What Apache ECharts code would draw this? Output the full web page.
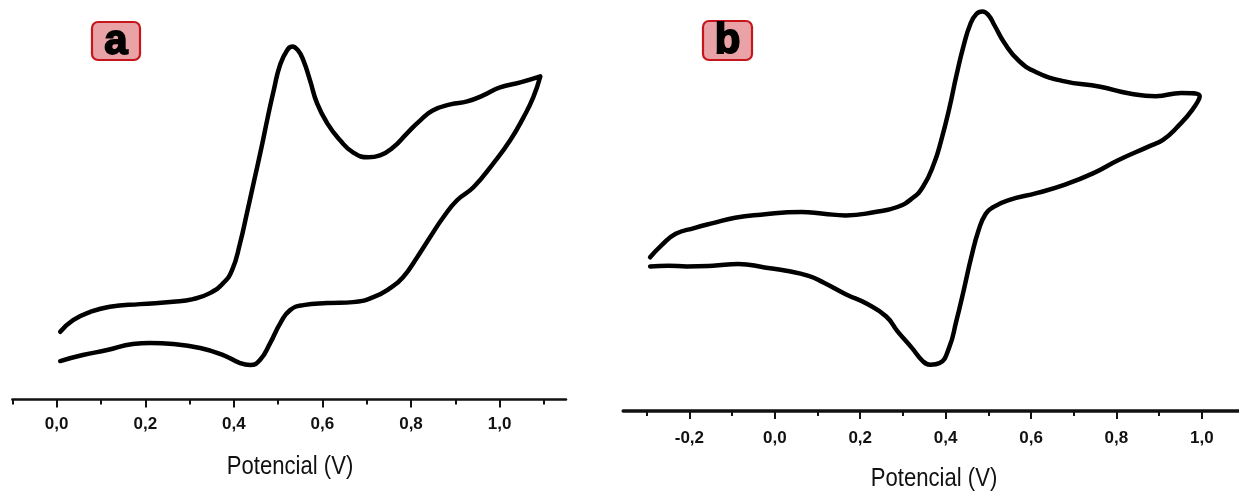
<!DOCTYPE html>
<html>
<head>
<meta charset="utf-8">
<script src="https://cdn.jsdelivr.net/npm/echarts@6/dist/echarts.min.js"></script>
<style>
  html, body { margin: 0; padding: 0; background: #ffffff; }
  #chart { width: 1239px; height: 495px; }
</style>
</head>
<body>
<div id="chart"></div>
<script>
// Voltammogram (a): potential (V) and current (arb. units), listed in scan order
const potentialA = [
  0.008, 0.037, 0.075, 0.120, 0.188, 0.263, 0.308, 0.346, 0.376, 0.396,
  0.414, 0.430, 0.446, 0.462, 0.477, 0.491, 0.504, 0.520, 0.532, 0.545,
  0.557, 0.572, 0.588, 0.611, 0.640, 0.669, 0.703, 0.730, 0.760, 0.791,
  0.821, 0.850, 0.889, 0.927, 0.963, 1.001, 1.047, 1.092,
  1.076, 1.054, 1.024, 0.986, 0.941, 0.904, 0.873, 0.843, 0.814, 0.782,
  0.753, 0.715, 0.669, 0.611, 0.557, 0.527, 0.505, 0.482, 0.459, 0.437,
  0.414, 0.376, 0.324, 0.263, 0.211, 0.172, 0.114, 0.059, 0.008
];
const currentA = [
  6.78, 7.95, 8.75, 9.28, 9.55, 9.78, 10.05, 10.65, 11.65, 12.95,
  15.65, 18.75, 21.95, 25.15, 28.35, 31.15, 33.45, 34.95, 35.35, 34.95,
  33.95, 31.95, 29.65, 27.65, 25.95, 24.75, 24.25, 24.45, 25.25, 26.65,
  27.95, 28.95, 29.55, 29.85, 30.45, 31.25, 31.75, 32.35,
  30.25, 28.25, 25.95, 23.65, 21.25, 19.95, 18.25, 16.25, 14.25, 12.25,
  11.15, 10.25, 9.75, 9.65, 9.45, 8.95, 7.65, 5.65, 3.95, 3.45,
  3.65, 4.45, 5.15, 5.55, 5.65, 5.55, 4.95, 4.45, 3.85
];

// Voltammogram (b)
const potentialB = [
  -0.292, -0.266, -0.232, -0.189, -0.145, -0.093, -0.033, 0.062, 0.114, 0.166,
  0.235, 0.287, 0.321, 0.347, 0.373, 0.390, 0.408, 0.425, 0.442, 0.458,
  0.472, 0.486, 0.500, 0.514, 0.537, 0.572, 0.615, 0.676, 0.762, 0.831,
  0.892, 0.952, 0.995,
  0.978, 0.944, 0.909, 0.875, 0.805, 0.745, 0.676, 0.615, 0.546, 0.512,
  0.494, 0.477, 0.460, 0.442, 0.425, 0.408, 0.386, 0.364, 0.347, 0.321,
  0.287, 0.261, 0.218, 0.166, 0.114, 0.079, 0.027, -0.024, -0.085, -0.145,
  -0.206, -0.249, -0.292
];
const currentB = [
  15.37, 16.54, 17.72, 18.29, 18.79, 19.33, 19.63, 19.90, 19.73, 19.56,
  19.90, 20.40, 21.24, 22.42, 24.77, 27.12, 30.14, 33.49, 36.51, 38.70,
  39.70, 39.95, 39.60, 38.60, 36.85, 35.00, 33.83, 32.99, 32.42, 31.75,
  31.48, 31.81, 31.48,
  30.14, 28.46, 27.11, 26.44, 25.10, 23.76, 22.58, 21.81, 21.07, 20.40,
  19.73, 18.05, 15.37, 12.01, 8.99, 6.31, 4.80, 4.63, 4.97, 6.31,
  7.99, 9.45, 10.67, 11.68, 12.85, 13.52, 14.03, 14.36, 14.70, 14.53,
  14.46, 14.53, 14.46
];

// Axis ticks and texts
const labelTicksA = [0, 0.2, 0.4, 0.6, 0.8, 1.0];
const minorTicksA = [-0.1, 0.1, 0.3, 0.5, 0.7, 0.9, 1.1];
const labelTicksB = [-0.2, 0, 0.2, 0.4, 0.6, 0.8, 1.0];
const minorTicksB = [-0.3, -0.1, 0.1, 0.3, 0.5, 0.7, 0.9];
const axisTitle = 'Potencial (V)';
const panelLetters = ['a', 'b'];

const zip = (xs, ys) => xs.map((x, i) => [x, ys[i]]);
const commaDecimal = v => v.toFixed(1).replace('.', ',');

const chart = echarts.init(document.getElementById('chart'), null, { renderer: 'canvas' });

const labelFont = {
  color: '#111',
  fontFamily: 'Liberation Sans, Arial, sans-serif',
  fontWeight: 'bold',
  fontSize: 17
};

function mainAxis(gridIndex, min, max, ticks, lineWidth, margin) {
  return {
    type: 'value', gridIndex, min, max, position: 'bottom',
    axisLine: { show: true, onZero: false, lineStyle: { color: '#111', width: lineWidth } },
    axisTick: { show: true, inside: false, length: 8, customValues: ticks,
                lineStyle: { color: '#111', width: 2 } },
    axisLabel: { show: true, margin, customValues: ticks, formatter: commaDecimal, ...labelFont },
    splitLine: { show: false }
  };
}
function minorAxis(gridIndex, min, max, ticks) {
  return {
    type: 'value', gridIndex, min, max, position: 'bottom',
    axisLine: { show: false, onZero: false },
    axisTick: { show: true, inside: false, length: 5, customValues: ticks,
                lineStyle: { color: '#111', width: 2 } },
    axisLabel: { show: false },
    splitLine: { show: false }
  };
}

// Red-bordered panel letter
function letterBox(letter, x, y, w, h) {
  return {
    type: 'group', x, y,
    children: [
      { type: 'rect', shape: { x: 0, y: 0, width: w, height: h, r: 6 },
        style: { fill: '#e9a3a6', stroke: '#c4161c', lineWidth: 2.2 } },
      { type: 'text', x: w / 2, y: h / 2 + 1,
        style: { text: letter, fill: '#000', stroke: '#000', lineWidth: 1.8,
                 font: 'bold 42px "Liberation Sans", Arial, sans-serif',
                 align: 'center', verticalAlign: 'middle' } }
    ]
  };
}

// Condensed axis title under each panel
function axisCaption(cx, cy) {
  return {
    type: 'text', x: cx, y: cy, scaleX: 0.85,
    style: { text: axisTitle, fill: '#111',
             font: '26px "Liberation Sans", Arial, sans-serif',
             align: 'center', verticalAlign: 'middle' }
  };
}

chart.setOption({
  animation: false,
  backgroundColor: '#ffffff',
  grid: [
    { left: 12.4, right: 673, top: -0.5, bottom: 95.5 },
    { left: 623.2, right: 0, top: 0, bottom: 84 }
  ],
  xAxis: [
    mainAxis(0, -0.1, 1.15, labelTicksA, 2.5, 16),
    minorAxis(0, -0.1, 1.15, minorTicksA),
    mainAxis(1, -0.355, 1.087, labelTicksB, 3.5, 19),
    minorAxis(1, -0.355, 1.087, minorTicksB)
  ],
  yAxis: [
    { type: 'value', gridIndex: 0, min: 0, max: 40, show: false },
    { type: 'value', gridIndex: 1, min: 0, max: 41.1, show: false }
  ],
  series: [
    { type: 'line', xAxisIndex: 0, yAxisIndex: 0, data: zip(potentialA, currentA),
      smooth: 0.5, showSymbol: false, lineStyle: { color: '#000', width: 4.5, cap: 'round', join: 'round' } },
    { type: 'line', xAxisIndex: 2, yAxisIndex: 1, data: zip(potentialB, currentB),
      smooth: 0.5, showSymbol: false, lineStyle: { color: '#000', width: 4.5, cap: 'round', join: 'round' } }
  ],
  graphic: [
    letterBox(panelLetters[0], 92, 22, 48, 38),
    letterBox(panelLetters[1], 703, 21, 49, 39),
    axisCaption(290, 467),
    axisCaption(934, 479)
  ]
});
</script>
</body>
</html>
